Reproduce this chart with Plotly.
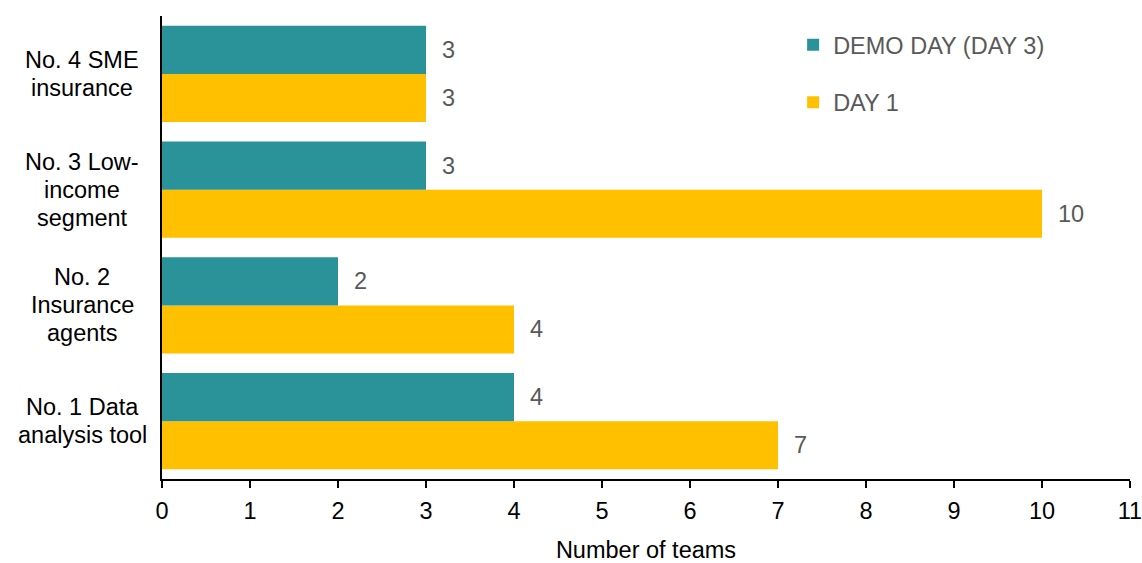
import plotly.graph_objects as go

categories = ["No. 1 Data analysis tool", "No. 2 Insurance agents", "No. 3 Low-income segment", "No. 4 SME insurance"]
cat_lines = [["No. 1 Data", "analysis tool"], ["No. 2", "Insurance", "agents"],
             ["No. 3 Low-", "income", "segment"], ["No. 4 SME", "insurance"]]
demo_day = [4, 2, 3, 3]
day1 = [7, 4, 10, 3]
x_ticks = list(range(0, 12))

TEAL = "#2A9399"
YELLOW = "#FFC000"
FONT = "Liberation Sans, Arial, sans-serif"
FS = 23.5

fig = go.Figure()
fig.add_trace(go.Bar(y=categories, x=day1, orientation="h", name="DAY 1",
                     marker=dict(color=YELLOW, line=dict(width=0)), legendgroup="b", legendrank=2))
fig.add_trace(go.Bar(y=categories, x=demo_day, orientation="h", name="DEMO DAY (DAY 3)",
                     marker=dict(color=TEAL, line=dict(width=0)), legendgroup="a", legendrank=1))

ann = []
for c, lines in zip(categories, cat_lines):
    n = len(lines)
    for i, line in enumerate(lines):
        ann.append(dict(x=0, xref="paper", y=c, yref="y", text=line, showarrow=False,
                        xanchor="center", xshift=-80, yshift=((n - 1) / 2 - i) * 28,
                        font=dict(family=FONT, size=FS, color="#000000")))
for c, v in zip(categories, demo_day):
    ann.append(dict(x=v, y=c, text=str(v), showarrow=False, xanchor="left",
                    xshift=14, yshift=24, font=dict(family=FONT, size=FS, color="#595959")))
for c, v in zip(categories, day1):
    ann.append(dict(x=v, y=c, text=str(v), showarrow=False, xanchor="left",
                    xshift=14, yshift=-24, font=dict(family=FONT, size=FS, color="#595959")))

fig.update_layout(
    width=1142, height=563,
    margin=dict(l=162, r=12, t=16, b=84),
    barmode="group", bargap=0.17, bargroupgap=0,
    plot_bgcolor="white", paper_bgcolor="white",
    font=dict(family=FONT, size=FS, color="#000000"),
    annotations=ann,
    legend=dict(x=0.652, y=0.985, xanchor="left", yanchor="top",
                traceorder="grouped", tracegroupgap=24,
                font=dict(family=FONT, size=FS, color="#595959"),
                bgcolor="rgba(0,0,0,0)"),
    xaxis=dict(range=[0, 11], tickvals=x_ticks, showgrid=False, zeroline=False,
               showline=True, linecolor="#000000", linewidth=2, automargin=False,
               ticks="outside", ticklen=7, tickcolor="#000000", tickwidth=2,
               ticklabeloverflow="allow", ticklabelstandoff=3,
               tickfont=dict(family=FONT, size=FS, color="#000000"),
               title=dict(text="Number of teams", font=dict(family=FONT, size=FS, color="#000000"), standoff=20)),
    yaxis=dict(showgrid=False, zeroline=False, showline=True, linecolor="#000000", linewidth=2,
               showticklabels=False, ticks="", automargin=False),
)

fig.write_html("out.html")
